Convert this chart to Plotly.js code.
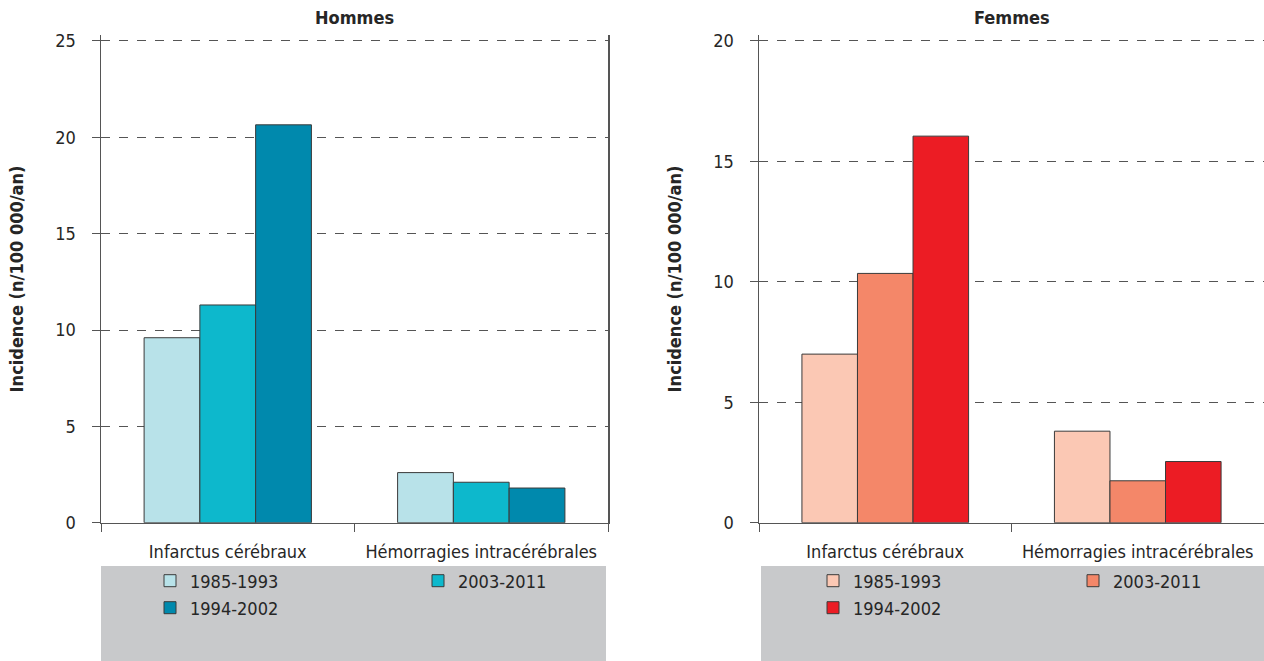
<!DOCTYPE html>
<html>
<head>
<meta charset="utf-8">
<script src="https://cdn.plot.ly/plotly-3.0.1.min.js"></script>
<style>html,body{margin:0;padding:0;background:#fff;}#chart{width:1264px;height:661px;}</style>
</head>
<body>
<div id="chart"></div>
<script>
// ---- data ----
const categories = ["Infarctus cérébraux", "Hémorragies intracérébrales"];
const seriesNames = ["1985-1993", "2003-2011", "1994-2002"];
const hommes_1985_1993 = [9.6, 2.6];
const hommes_2003_2011 = [11.3, 2.1];
const hommes_1994_2002 = [20.65, 1.8];
const femmes_1985_1993 = [7.0, 3.8];
const femmes_2003_2011 = [10.35, 1.74];
const femmes_1994_2002 = [16.05, 2.54];
const panelTitles = ["Hommes", "Femmes"];
const yTitle = "Incidence (n/100 000/an)";
const yMaxH = 25, yMaxF = 20;

const colorsH = ["#b8e2e9", "#0db8cc", "#0089ad"];
const colorsF = ["#fbc8b4", "#f48769", "#ec1c24"];
const FONT = "Liberation Sans Narrow, Arial Narrow, DejaVu Sans Condensed, sans-serif";
const TXT = "#262626";

function bar(name, y, color, xa, ya, legend) {
  return {
    type: "bar", name: name, x: categories, y: y,
    xaxis: xa, yaxis: ya, legend: legend,
    marker: {color: color, line: {color: "#3a3a3a", width: 1}},
    hoverinfo: "skip"
  };
}

const data = [
  bar(seriesNames[0], hommes_1985_1993, colorsH[0], "x", "y", "legend"),
  bar(seriesNames[1], hommes_2003_2011, colorsH[1], "x", "y", "legend2"),
  bar(seriesNames[2], hommes_1994_2002, colorsH[2], "x", "y", "legend3"),
  bar(seriesNames[0], femmes_1985_1993, colorsF[0], "x2", "y2", "legend4"),
  bar(seriesNames[1], femmes_2003_2011, colorsF[1], "x2", "y2", "legend5"),
  bar(seriesNames[2], femmes_1994_2002, colorsF[2], "x2", "y2", "legend6")
];

const W = 1264, H = 661;
const px = v => v / W;
const py = v => 1 - v / H;
const PAD = 1.012; // small headroom so the top dashed gridline is drawn

function xaxisDef(domain) {
  return {
    domain: domain, type: "category", automargin: false,
    showline: true, linecolor: "#555", linewidth: 1.5, mirror: false,
    ticks: "outside", tickson: "boundaries", ticklen: 8, tickcolor: "#555", tickwidth: 1,
    tickfont: {family: FONT, size: 18, color: TXT},
    ticklabelstandoff: 12,
    showgrid: false, fixedrange: true
  };
}
function yaxisDef(ymax, anchor, mirror) {
  const top = 522.7 - (522.7 - 41) * PAD;
  return {
    domain: [py(522.7), py(top)], range: [0, ymax * PAD], tick0: 0, dtick: 5, anchor: anchor, automargin: false,
    showline: true, linecolor: "#555", linewidth: 1.5, mirror: mirror,
    ticks: "outside", ticklen: 8, tickcolor: "#555", tickwidth: 1,
    tickfont: {family: FONT, size: 18, color: TXT},
    ticklabelstandoff: 12,
    showgrid: true, gridcolor: "#555", griddash: "dash", gridwidth: 1,
    zeroline: false, fixedrange: true,
    title: {text: yTitle, font: {family: FONT, size: 18, color: TXT, weight: "bold"}, standoff: 27}
  };
}

function legendDef(xpx, ypx) {
  return {
    x: px(xpx), y: py(ypx), xanchor: "left", yanchor: "middle",
    xref: "paper", yref: "paper", bgcolor: "rgba(0,0,0,0)",
    font: {family: FONT, size: 18, color: TXT}, orientation: "v"
  };
}

const layout = {
  width: W, height: H, autosize: false,
  margin: {l: 0, r: 0, t: 0, b: 0},
  paper_bgcolor: "#fff", plot_bgcolor: "#fff",
  barmode: "group", bargap: 0.34, bargroupgap: 0,
  showlegend: true,
  xaxis: Object.assign(xaxisDef([px(101), px(608)]), {anchor: "y"}),
  yaxis: yaxisDef(yMaxH, "x", true),
  xaxis2: Object.assign(xaxisDef([px(759), 1]), {anchor: "y2"}),
  yaxis2: yaxisDef(yMaxF, "x2", false),
  legend: legendDef(150, 581),
  legend2: legendDef(418, 581),
  legend3: legendDef(150, 608),
  legend4: legendDef(813, 581),
  legend5: legendDef(1073, 581),
  legend6: legendDef(813, 608),
  shapes: [
    {type: "rect", xref: "paper", yref: "paper", x0: px(101), x1: px(606), y0: 0, y1: py(566),
     fillcolor: "#c8c9cb", line: {width: 0}, layer: "below"},
    {type: "rect", xref: "paper", yref: "paper", x0: px(761), x1: 1, y0: 0, y1: py(566),
     fillcolor: "#c8c9cb", line: {width: 0}, layer: "below"}
  ],
  annotations: [
    {text: "<b>" + panelTitles[0] + "</b>", xref: "x domain", yref: "paper", x: 0.5, y: py(17),
     showarrow: false, xanchor: "center", yanchor: "middle", font: {family: FONT, size: 18, color: TXT}},
    {text: "<b>" + panelTitles[1] + "</b>", xref: "x2 domain", yref: "paper", x: 0.5, y: py(17),
     showarrow: false, xanchor: "center", yanchor: "middle", font: {family: FONT, size: 18, color: TXT}}
  ]
};

Plotly.newPlot("chart", data, layout, {staticPlot: true, displayModeBar: false});
</script>
</body>
</html>
